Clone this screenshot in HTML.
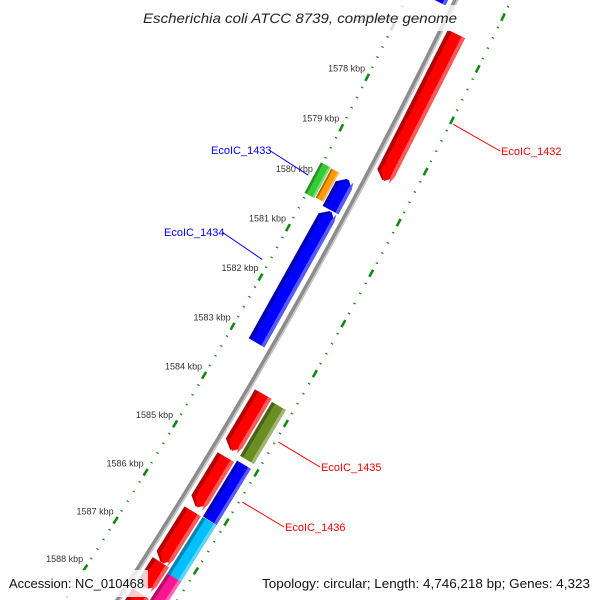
<!DOCTYPE html>
<html><head><meta charset="utf-8"><title>Escherichia coli ATCC 8739 genome map</title>
<style>html,body{margin:0;padding:0;background:#fff;width:600px;height:600px;overflow:hidden}svg{display:block;overflow:hidden}</style></head>
<body>
<svg id="map" xmlns="http://www.w3.org/2000/svg" width="600" height="600" viewBox="0 0 600 600" overflow="hidden" font-family="'Liberation Sans', 'DejaVu Sans', sans-serif">
<rect width="600" height="600" fill="#fff"/>
<g id="ticks"></g>
<g id="backbone"></g>
<g id="features"></g>
<g id="labels"></g>
<rect x="135" y="5" width="332" height="26" fill="#fff" fill-opacity="0.78"/>
<text x="300" y="23" text-anchor="middle" font-size="14" font-style="italic" fill="#222" textLength="314" lengthAdjust="spacingAndGlyphs">Escherichia coli ATCC 8739, complete genome</text>
<rect x="5" y="570" width="143" height="27" fill="#fff" fill-opacity="0.8"/>
<text x="9" y="588" font-size="13" fill="#111" textLength="135" lengthAdjust="spacingAndGlyphs">Accession: NC_010468</text>
<text x="590" y="588" text-anchor="end" font-size="13" fill="#111" textLength="328" lengthAdjust="spacingAndGlyphs">Topology: circular; Length: 4,746,218 bp; Genes: 4,323</text>
</svg>
<script>
// ---- data ----
const featureNames = ["EcoIC_top_green","EcoIC_top_blue","EcoIC_1432","EcoIC_1433a","EcoIC_1433","EcoIC_small_blue","EcoIC_1434","EcoIC_redA","EcoIC_1435","EcoIC_redB","EcoIC_1436","EcoIC_redC","EcoIC_cyan","EcoIC_redD","EcoIC_pink","EcoIC_redE"];
const featureStarts = [1575.9,1575.9,1576.62,1579.71,1579.72,1579.75,1580.39,1583.76,1583.80,1585.04,1584.99,1586.15,1586.14,1587.20,1587.30,1587.85];
const featureEnds   = [1576.25,1576.25,1579.48,1580.32,1580.30,1580.37,1583.04,1584.89,1584.89,1586.05,1586.13,1587.20,1587.30,1587.73,1589.20,1589.20];
const featureRows   = [-2,-1,1,-2,-3,-1,-1,1,2,1,2,1,2,1,2,1];
const featureColors = ["#33cc33","#0000ff","#ff0000","#33cc33","#ff9900","#0000ff","#0000ff","#ff0000","#6b8e23","#ff0000","#0000ff","#ff0000","#00bfff","#ff0000","#ff1493","#ff0000"];
const featureArrows = [0,1,1,0,0,1,1,1,0,1,0,1,0,1,0,1];
const tickKbp = [1575,1576,1577,1578,1579,1580,1581,1582,1583,1584,1585,1586,1587,1588,1589];
const tickLabels = ["1575 kbp","1576 kbp","1577 kbp","1578 kbp","1579 kbp","1580 kbp","1581 kbp","1582 kbp","1583 kbp","1584 kbp","1585 kbp","1586 kbp","1587 kbp","1588 kbp","1589 kbp"];
const labelNames = ["EcoIC_1432","EcoIC_1433","EcoIC_1434","EcoIC_1435","EcoIC_1436"];
const labelFeatureIdx = [2,3,6,8,10];
const labelColors = ["#ff0000","#0000ff","#0000ff","#ff0000","#ff0000"];
const labelX = [501,211,164,321,285];
const labelY = [155,154,236,471,531];
const labelAnchorR = [5550,5445,5445,5550,5550];

// ---- axis functions ----
const CX=-4494, CY=-2391;
const R_BACK=5497, R_INNER=5452, R_OUTER=5547;
function ang(k){return (26.92+0.595*(k-1578))*Math.PI/180;}
function pt(k,r){const a=ang(k);return [CX+r*Math.cos(a), CY+r*Math.sin(a)];}
function rowRange(row){
  if(row===1) return [5503,5522];
  if(row===2) return [5524,5540];
  if(row===-1) return [5472,5490];
  if(row===-3) return [5462,5471];
  return [5450,5461];
}
const NS="http://www.w3.org/2000/svg";
function mk(tag,attrs,parent){const e=document.createElementNS(NS,tag);for(const k in attrs)e.setAttribute(k,attrs[k]);parent.appendChild(e);return e;}
function arcPath(k0,k1,r,n){let d="";for(let i=0;i<=n;i++){const p=pt(k0+(k1-k0)*i/n,r);d+=(i?"L":"M")+p[0].toFixed(2)+","+p[1].toFixed(2);}return d;}

// ---- ticks ----
const tg=document.getElementById("ticks");
[R_INNER,R_OUTER].forEach((r,ri)=>{
  for(let t=0;t<tickKbp.length;t++){
    for(let j=0;j<5;j++){
      const k=tickKbp[t]+j*0.2;
      const half = j===0 ? 0.07 : 0.011;
      const p=arcPath(k-half,k+half,r,1);
      const e=mk("path",{d:p,stroke:"#118811","stroke-width":j===0?2.6:2.4,fill:"none"},tg);
      
      
    }
    if(ri===0){
      const p=pt(tickKbp[t],R_INNER);
      const tx=mk("text",{x:(p[0]-2).toFixed(1),y:(p[1]-6).toFixed(1),"text-anchor":"end","font-size":"9",fill:"#333"},tg);
      tx.textContent=tickLabels[t];
      
      
    }
  }
});

// ---- backbone ----
const bg=document.getElementById("backbone");
const b1=mk("path",{d:arcPath(1574,1590,R_BACK,40),stroke:"#8c8c8c","stroke-width":5,fill:"none"},bg);


const b2=mk("path",{d:arcPath(1574,1590,R_BACK+1.6,40),stroke:"#c8c8c8","stroke-width":1.4,fill:"none"},bg);



// ---- features ----
function shade(hex,f){const n=parseInt(hex.slice(1),16);let r=n>>16,g=(n>>8)&255,b=n&255;
  if(f<0){r=Math.round(r*(1+f));g=Math.round(g*(1+f));b=Math.round(b*(1+f));}
  else{r=Math.round(r+(255-r)*f);g=Math.round(g+(255-g)*f);b=Math.round(b+(255-b)*f);}
  return "rgb("+r+","+g+","+b+")";}
function featPath(s,e,r1,r2,arrow,fwd){
  const tipLen=0.13;
  const pts=[];
  const rm=(r1+r2)/2;
  if(arrow && fwd){
    const e2=Math.max(s,e-tipLen);
    pts.push(pt(s,r1),pt(e2,r1),pt(e,rm),pt(e2,r2),pt(s,r2));
  } else if(arrow){
    const s2=Math.min(e,s+tipLen);
    pts.push(pt(s2,r1),pt(e,r1),pt(e,r2),pt(s2,r2),pt(s,rm));
  } else {
    pts.push(pt(s,r1),pt(e,r1),pt(e,r2),pt(s,r2));
  }
  return "M"+pts.map(p=>p[0].toFixed(2)+","+p[1].toFixed(2)).join("L")+"Z";
}
const fg=document.getElementById("features");
for(let i=0;i<featureNames.length;i++){
  const rr=rowRange(featureRows[i]);
  const fwd=featureRows[i]>0;
  const g=mk("g",{},fg);
  
  
  const base=mk("path",{d:featPath(featureStarts[i],featureEnds[i],rr[0],rr[1],featureArrows[i],fwd),fill:shade(featureColors[i],-0.3)},g);
  
  
  const w=rr[1]-rr[0];
  const main=mk("path",{d:featPath(featureStarts[i],featureEnds[i],rr[0]+w*0.22,rr[1],featureArrows[i],fwd),fill:featureColors[i]},g);
  
  
  const hi=mk("path",{d:featPath(featureStarts[i],featureEnds[i],rr[1]-w*0.2,rr[1],featureArrows[i],fwd),fill:shade(featureColors[i],0.35)},g);
  
  
}

// ---- labels ----
const lg=document.getElementById("labels");
for(let i=0;i<labelNames.length;i++){
  const fi=labelFeatureIdx[i];
  const mid=(featureStarts[fi]+featureEnds[fi])/2;
  const p=pt(mid,labelAnchorR[i]);
  const right=labelX[i]>p[0];
  const ex=right?labelX[i]-1:labelX[i]+58;
  const ln=mk("line",{x1:p[0].toFixed(1),y1:p[1].toFixed(1),x2:ex,y2:labelY[i]-4,stroke:labelColors[i],"stroke-width":1},lg);
  
  
  const t=mk("text",{x:labelX[i],y:labelY[i],"font-size":"11",fill:labelColors[i]},lg);
  t.textContent=labelNames[i];
  
  
}
</script>
</body></html>
